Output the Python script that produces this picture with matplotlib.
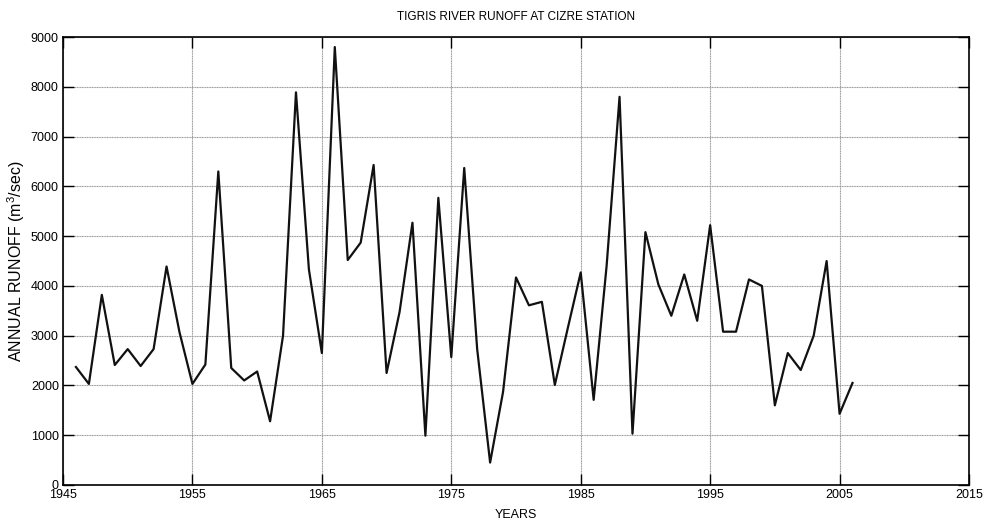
import matplotlib
matplotlib.use("Agg")
import matplotlib.pyplot as plt

years = list(range(1946, 2007))
runoff = [2370, 2030, 3820, 2410, 2730, 2390, 2730, 4390, 3070, 2030,
          2420, 6300, 2350, 2100, 2280, 1280, 3000, 7890, 4330, 2650,
          8800, 4520, 4870, 6430, 2250, 3470, 5270, 990, 5770, 2570,
          6370, 2730, 450, 1870, 4170, 3610, 3680, 2010, 3150, 4270,
          1710, 4400, 7800, 1030, 5080, 4030, 3400, 4230, 3300, 5220,
          3080, 3080, 4130, 4000, 1600, 2650, 2310, 3000, 4500, 1430,
          2050]
x_ticks = [1945, 1955, 1965, 1975, 1985, 1995, 2005, 2015]
y_ticks = list(range(0, 9001, 1000))

font = ["Liberation Sans", "DejaVu Sans"]
plt.rcParams["font.family"] = font
plt.rcParams["mathtext.fontset"] = "custom"
plt.rcParams["mathtext.rm"] = "Liberation Sans"

fig = plt.figure(figsize=(10, 5.3), dpi=100)
ax = fig.add_axes([0.063, 0.085, 0.906, 0.845])

ax.plot(years, runoff, color="#111111", lw=1.6)

ax.set_xlim(1945, 2015)
ax.set_ylim(0, 9000)
ax.set_xticks(x_ticks)
ax.set_yticks(y_ticks)
ax.grid(True, color="#999999", lw=0.8, ls=(0, (1, 0.5)))
ax.tick_params(direction="in", top=True, right=True, length=8, width=1,
               labelsize=9, pad=3)
for s in ax.spines.values():
    s.set_linewidth(1.2)

ax.set_title("TIGRIS RIVER RUNOFF AT CIZRE STATION", fontsize=8.5, pad=12)
ax.set_xlabel("YEARS", fontsize=9, labelpad=6)
ax.set_ylabel("ANNUAL RUNOFF (m$^\\mathrm{3}$/sec)", fontsize=11.5)
ax.yaxis.set_label_coords(-0.04, 0.5)

fig.savefig("out.png", dpi=100)
